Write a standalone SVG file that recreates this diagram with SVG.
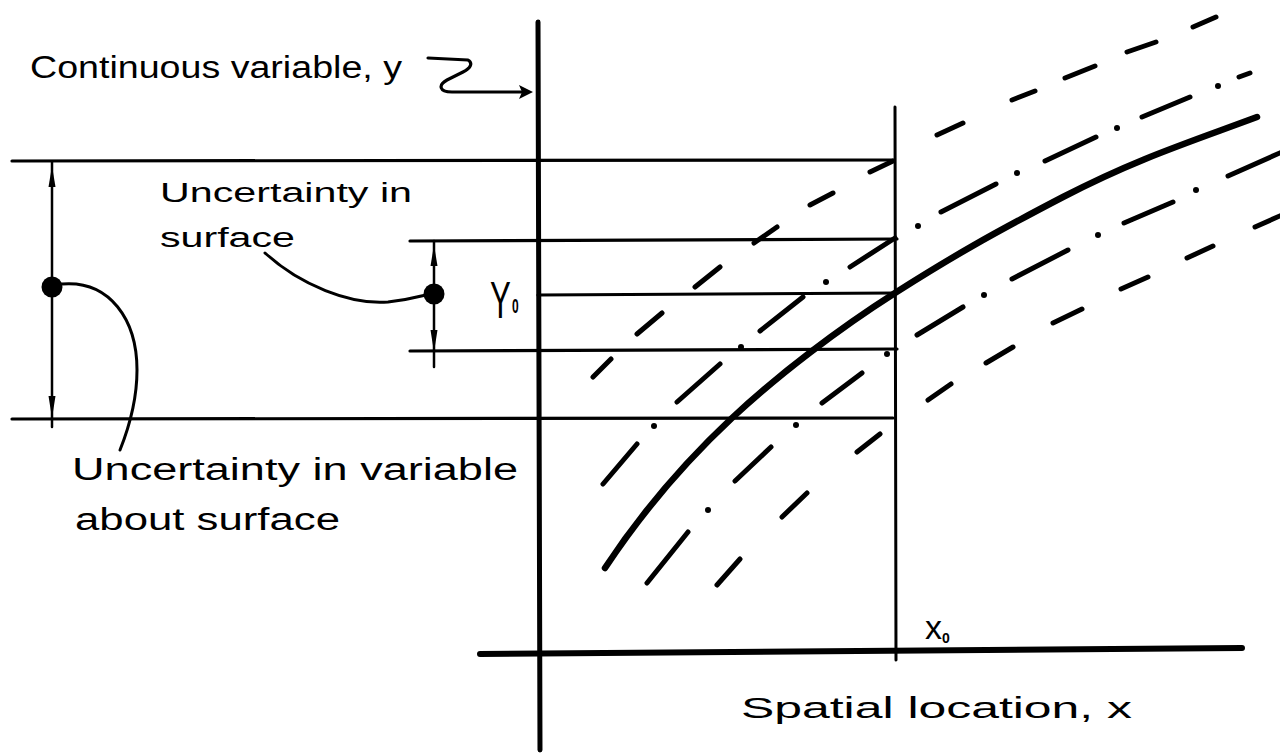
<svg xmlns="http://www.w3.org/2000/svg" width="1280" height="755" viewBox="0 0 1280 755">
<style>
.ln{stroke:#000;fill:none;stroke-linecap:round;stroke-linejoin:round}
.thin{stroke-width:3}
.dash{stroke:#000;stroke-width:5;stroke-linecap:round;fill:none}
.dot{fill:#000}
.t{font-family:"Liberation Sans",Arial,sans-serif;fill:#000}
</style>
<rect width="1280" height="755" fill="#fff"/>
<g id="axes">
<line class="ln" x1="538" y1="22" x2="540" y2="750" stroke-width="5"/>
<line class="ln" x1="480" y1="654" x2="1242" y2="648" stroke-width="6"/>
<line class="ln thin" x1="895" y1="107" x2="896" y2="660"/>
</g>
<g id="guides">
<line class="ln" x1="12" y1="161" x2="893" y2="160" stroke-width="3.2"/>
<line class="ln" x1="410" y1="241" x2="897" y2="239" stroke-width="3.2"/>
<line class="ln" x1="538" y1="295" x2="896" y2="293" stroke-width="3.2"/>
<line class="ln" x1="410" y1="351" x2="897" y2="349" stroke-width="3.2"/>
<line class="ln" x1="12" y1="419" x2="893" y2="418" stroke-width="3.2"/>
</g>
<g id="surface">
<path class="ln" stroke-width="6.5" d="M605,568 C640,515 685,462 732,418 S840,328 895,293 S990,235 1063,197 S1190,142 1257,117"/>
</g>
<g id="upper-bound">
<path class="dash" d="M593,377L611,359 M637,334L662,313 M695,287L720,267 M754,243L777,227 M810,205L833,193 M870,172L893,161 M937,135L963,123 M1012,100L1035,91 M1065,78L1095,66 M1127,52L1156,42 M1193,27L1216,17"/>
</g>
<g id="upper-inner-bound">
<path class="dash" d="M603,484L637,444 M677,402L720,364 M760,331L803,297 M850,267L895,238 M941,212L996,184 M1045,161L1096,137 M1142,117L1190,97 M1239,77L1250,73"/>
<circle class="dot" cx="654" cy="426" r="3"/>
<circle class="dot" cx="741" cy="347" r="3"/>
<circle class="dot" cx="826" cy="282" r="3"/>
<circle class="dot" cx="918" cy="226" r="3"/>
<circle class="dot" cx="1017" cy="173" r="3"/>
<circle class="dot" cx="1117" cy="128" r="3"/>
<circle class="dot" cx="1218" cy="86" r="3"/>
</g>
<g id="lower-inner-bound">
<path class="dash" d="M647,583L688,532 M735,481L771,447 M822,403L862,373 M917,335L963,307 M1012,279L1068,250 M1124,223L1173,202 M1228,176L1282,152"/>
<circle class="dot" cx="708" cy="510" r="3"/>
<circle class="dot" cx="796" cy="425" r="3"/>
<circle class="dot" cx="887" cy="354" r="3"/>
<circle class="dot" cx="984" cy="295" r="3"/>
<circle class="dot" cx="1098" cy="235" r="3"/>
<circle class="dot" cx="1196" cy="190" r="3"/>
</g>
<g id="lower-bound">
<path class="dash" d="M717,585L740,559 M782,517L807,493 M857,452L880,434 M928,400L951,384 M986,363L1013,347 M1053,323L1082,309 M1121,289L1148,277 M1187,258L1213,246 M1255,227L1282,215"/>
</g>
<g id="connectors">
<path class="ln" stroke-width="3.2" d="M428,58 L468,60 C473,63 471,68 463,72 L447,80 C438,85 439,92 452,92 L522,92"/>
<polygon points="533,92 519,85 522,92 519,99" fill="#000"/>
<line class="ln" x1="52" y1="162" x2="52" y2="427" stroke-width="2.5"/>
<polygon points="52,166 55.5,187 48.5,187" fill="#000"/>
<polygon points="52,418 55.5,396 48.5,396" fill="#000"/>
<circle cx="52" cy="287" r="10.5" fill="#000"/>
<path class="ln" stroke-width="3" d="M62,284 C110,280 137,320 137,370 C137,400 128,430 120,450"/>
<line class="ln" x1="434" y1="241" x2="434" y2="367" stroke-width="2.5"/>
<polygon points="434,245 437.5,266 430.5,266" fill="#000"/>
<polygon points="434,352 437.5,330 430.5,330" fill="#000"/>
<circle cx="434" cy="294" r="10.5" fill="#000"/>
<path class="ln" stroke-width="3" d="M265,253 C300,285 350,305 388,302 C405,300 418,297 426,295"/>
</g>
<g id="labels">
<text class="t" x="30" y="78" font-size="31" textLength="372" lengthAdjust="spacingAndGlyphs">Continuous variable, y</text>
<text class="t" x="160" y="202" font-size="27" textLength="252" lengthAdjust="spacingAndGlyphs">Uncertainty in</text>
<text class="t" x="160" y="247" font-size="27" textLength="135" lengthAdjust="spacingAndGlyphs">surface</text>
<text class="t" x="72" y="480" font-size="31" textLength="446" lengthAdjust="spacingAndGlyphs">Uncertainty in variable</text>
<text class="t" x="75" y="530" font-size="31" textLength="265" lengthAdjust="spacingAndGlyphs">about surface</text>
<text class="t" x="741" y="718" font-size="30" textLength="391" lengthAdjust="spacingAndGlyphs">Spatial location, x</text>
<text class="t" transform="translate(490,318) scale(0.6,1)" font-size="52">Y<tspan font-size="20" font-weight="bold" dx="2" dy="-5">0</tspan></text>
<text class="t" x="925" y="639" font-size="34">x<tspan font-size="14" font-weight="bold" dy="4">0</tspan></text>
</g>
</svg>
